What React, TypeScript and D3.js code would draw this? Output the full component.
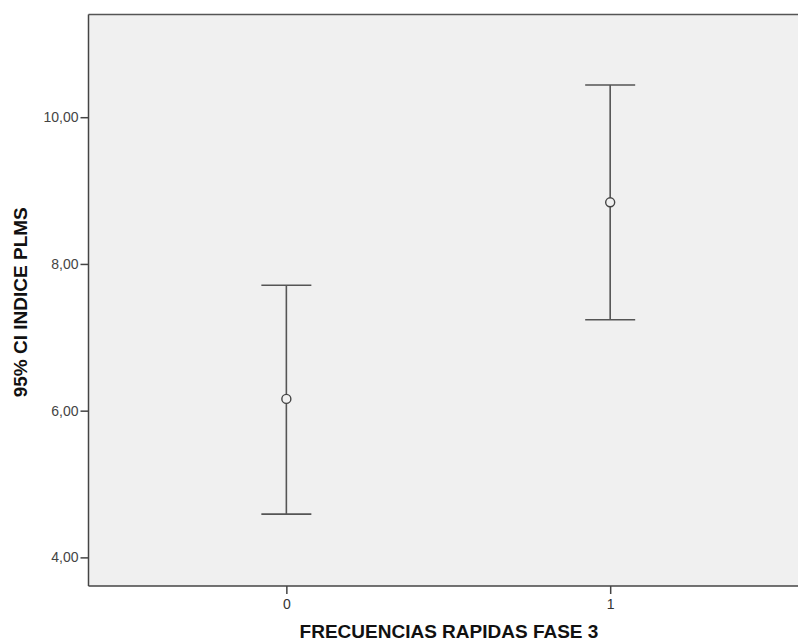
import { useEffect, useRef } from "react";
import * as d3 from "d3";

const groups = [0, 1];
const means = [6.16, 8.84];
const lowers = [4.59, 7.24];
const uppers = [7.71, 10.44];
const yTicks = [4, 6, 8, 10];

const App = () => {
  const svgRef = useRef<SVGSVGElement>(null);

  useEffect(() => {
    const width = 798;
    const height = 644;
    const margin = { top: 14.5, right: 0, bottom: 58, left: 88.5 };

    const svg = d3.select(svgRef.current);
    svg.selectAll("*").remove();
    svg.attr("width", width).attr("height", height);

    const x = d3.scaleLinear()
      .domain([-0.611, 1.58])
      .range([margin.left, width - margin.right]);

    const y = d3.scaleLinear()
      .domain([3.61, 11.4])
      .range([height - margin.bottom, margin.top]);

    // Plot background
    svg.append("rect")
      .attr("x", margin.left)
      .attr("y", margin.top)
      .attr("width", width - margin.right - margin.left)
      .attr("height", height - margin.bottom - margin.top)
      .attr("fill", "#f0f0f0");

    // Top border
    svg.append("line")
      .attr("x1", margin.left).attr("x2", width)
      .attr("y1", margin.top).attr("y2", margin.top)
      .attr("stroke", "#555").attr("stroke-width", 1.5);

    const font = "'Liberation Sans', Arial, sans-serif";

    // Y axis
    const yAxis = svg.append("g")
      .attr("transform", `translate(${margin.left},0)`)
      .call(d3.axisLeft(y).tickValues(yTicks).tickSize(8).tickPadding(2)
        .tickFormat(d => d3.format(".2f")(d as number).replace(".", ",")))
      .call(g => g.select(".domain").remove());
    yAxis.selectAll(".tick line").attr("stroke", "#444").attr("stroke-width", 1.5);
    yAxis.selectAll("text").attr("fill", "#444").style("font-family", font).style("font-size", "14px");
    svg.append("line")
      .attr("x1", margin.left).attr("x2", margin.left)
      .attr("y1", margin.top).attr("y2", height - margin.bottom)
      .attr("stroke", "#444").attr("stroke-width", 1.5);

    // X axis
    const xAxis = svg.append("g")
      .attr("transform", `translate(0,${height - margin.bottom})`)
      .call(d3.axisBottom(x).tickValues(groups).tickSize(8).tickPadding(5).tickFormat(d3.format("d")))
      .call(g => g.select(".domain").remove());
    xAxis.selectAll(".tick line").attr("stroke", "#444").attr("stroke-width", 1.5);
    xAxis.selectAll("text").attr("fill", "#333").style("font-family", font).style("font-size", "14px");
    svg.append("line")
      .attr("x1", margin.left).attr("x2", width)
      .attr("y1", height - margin.bottom).attr("y2", height - margin.bottom)
      .attr("stroke", "#444").attr("stroke-width", 1.5);

    // Error bars
    const data = groups.map((g, i) => ({ g, mean: means[i], lo: lowers[i], hi: uppers[i] }));
    const capHalf = 25;
    const bars = svg.append("g").attr("stroke", "#555").attr("stroke-width", 1.6).attr("fill", "none");

    bars.selectAll("line.stem")
      .data(data).join("line").attr("class", "stem")
      .attr("x1", d => x(d.g)).attr("x2", d => x(d.g))
      .attr("y1", d => y(d.hi)).attr("y2", d => y(d.lo));
    bars.selectAll("line.hicap")
      .data(data).join("line").attr("class", "hicap")
      .attr("x1", d => x(d.g) - capHalf).attr("x2", d => x(d.g) + capHalf)
      .attr("y1", d => y(d.hi)).attr("y2", d => y(d.hi));
    bars.selectAll("line.locap")
      .data(data).join("line").attr("class", "locap")
      .attr("x1", d => x(d.g) - capHalf).attr("x2", d => x(d.g) + capHalf)
      .attr("y1", d => y(d.lo)).attr("y2", d => y(d.lo));
    bars.selectAll("circle")
      .data(data).join("circle")
      .attr("cx", d => x(d.g)).attr("cy", d => y(d.mean))
      .attr("r", 4.5).attr("fill", "#f0f0f0").attr("stroke", "#444").attr("stroke-width", 1.4);

    // Axis titles
    svg.append("text")
      .attr("x", 449)
      .attr("y", 638)
      .attr("text-anchor", "middle")
      .style("font-family", font).style("font-size", "19px").style("font-weight", "bold")
      .attr("fill", "#111")
      .text("FRECUENCIAS RAPIDAS FASE 3");

    svg.append("text")
      .attr("transform", `translate(27,${(margin.top + height - margin.bottom) / 2 + 2}) rotate(-90)`)
      .attr("text-anchor", "middle")
      .style("font-family", font).style("font-size", "19px").style("font-weight", "bold")
      .attr("fill", "#111")
      .text("95% CI INDICE PLMS");
  }, []);

  return (
    <div style={{ position: "absolute", left: 0, top: 0 }}>
      <svg ref={svgRef} style={{ display: "block" }}></svg>
    </div>
  );
};

export default App;
